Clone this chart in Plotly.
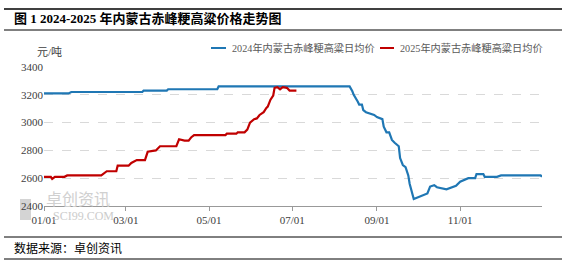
import plotly.graph_objects as go

# ---------------- data ----------------
dates_2024 = ["2024-01-01", "2024-01-19", "2024-01-21", "2024-03-13", "2024-03-14", "2024-03-31",
              "2024-04-01", "2024-05-07", "2024-05-08", "2024-08-12", "2024-08-14", "2024-08-15",
              "2024-08-18", "2024-08-19", "2024-08-21", "2024-08-22", "2024-08-24", "2024-08-26",
              "2024-08-30", "2024-09-01", "2024-09-04", "2024-09-05", "2024-09-06", "2024-09-08",
              "2024-09-10", "2024-09-12", "2024-09-14", "2024-09-17", "2024-09-18", "2024-09-20",
              "2024-09-22", "2024-09-24", "2024-09-25", "2024-09-28", "2024-10-08", "2024-10-10",
              "2024-10-13", "2024-10-15", "2024-10-22", "2024-10-26", "2024-10-29", "2024-11-01",
              "2024-11-05", "2024-11-07", "2024-11-12", "2024-11-13", "2024-11-18", "2024-11-19",
              "2024-11-28", "2024-12-01", "2024-12-30", "2024-12-31"]
price_2024 = [3210, 3210, 3220, 3220, 3230, 3230,
              3240, 3240, 3260, 3260, 3225, 3200,
              3150, 3130, 3130, 3090, 3075, 3070,
              3055, 3040, 3030, 3025, 2970, 2930,
              2930, 2875, 2855, 2830, 2745, 2695,
              2680, 2620, 2560, 2450, 2490, 2540,
              2550, 2535, 2520, 2535, 2545, 2575,
              2590, 2600, 2600, 2630, 2630, 2610,
              2610, 2620, 2620, 2610]

dates_2025 = ["2025-01-01", "2025-01-06", "2025-01-07", "2025-01-09", "2025-01-16", "2025-01-18",
              "2025-02-12", "2025-02-16", "2025-02-23", "2025-02-24", "2025-03-03", "2025-03-05",
              "2025-03-09", "2025-03-15", "2025-03-17", "2025-03-21", "2025-03-23", "2025-03-26",
              "2025-04-07", "2025-04-09", "2025-04-13", "2025-04-16", "2025-04-18", "2025-04-20",
              "2025-05-13", "2025-05-14", "2025-05-21", "2025-05-22", "2025-05-27", "2025-05-29",
              "2025-05-31", "2025-06-03", "2025-06-05", "2025-06-07", "2025-06-10", "2025-06-12",
              "2025-06-13", "2025-06-15", "2025-06-17", "2025-06-18", "2025-06-20", "2025-06-22",
              "2025-06-24", "2025-06-27", "2025-06-29", "2025-07-04"]
price_2025 = [2610, 2610, 2595, 2610, 2610, 2620,
              2620, 2650, 2650, 2690, 2690, 2710,
              2730, 2730, 2790, 2800, 2800, 2830,
              2830, 2880, 2870, 2870, 2895, 2910,
              2910, 2920, 2920, 2930, 2930, 2950,
              3000, 3025, 3030, 3055, 3075, 3105,
              3115, 3165, 3195, 3250, 3255, 3240,
              3255, 3250, 3230, 3230]

series_names = ["2024年内蒙古赤峰粳高粱日均价", "2025年内蒙古赤峰粳高粱日均价"]
series_colors = ["#1F77B4", "#C00000"]
tick_dates = ["2024-01-01", "2024-03-01", "2024-05-01", "2024-07-01", "2024-09-01", "2024-11-01"]
tick_labels = ["01/01", "03/01", "05/01", "07/01", "09/01", "11/01"]
y_ticks = [2400, 2600, 2800, 3000, 3200, 3400]

title_text = "图 1 2024-2025 年内蒙古赤峰粳高粱价格走势图"
unit_text = "元/吨"
source_text = "数据来源：卓创资讯"

# map 2025 dates onto the common (2024) month/day axis
x_2025 = [("2024" + d[4:]) for d in dates_2025]

# ---------------- layout geometry ----------------
W, H = 567, 268
L, R, T, B = 44, 25, 67, 62
PW, PH = W - L - R, H - T - B


def px(xp):
    return (xp - L) / PW


def py(yp):
    return (H - B - yp) / PH


FONT = "Liberation Serif, Noto Sans CJK SC, serif"
GRAY = "#404040"

fig = go.Figure()
fig.add_trace(go.Scatter(x=dates_2024, y=price_2024, mode="lines", name=series_names[0],
                         line=dict(color=series_colors[0], width=2.2), showlegend=False))
fig.add_trace(go.Scatter(x=x_2025, y=price_2025, mode="lines", name=series_names[1],
                         line=dict(color=series_colors[1], width=2.2), showlegend=False))

shapes = [
    dict(type="line", xref="paper", yref="paper", x0=px(4), x1=px(562), y0=py(9), y1=py(9),
         line=dict(color="black", width=1.5)),
    dict(type="line", xref="paper", yref="paper", x0=px(4), x1=px(562), y0=py(30), y1=py(30),
         line=dict(color="black", width=1)),
    dict(type="line", xref="paper", yref="paper", x0=px(4), x1=px(562), y0=py(237), y1=py(237),
         line=dict(color="black", width=1)),
    dict(type="line", xref="paper", yref="paper", x0=px(4), x1=px(562), y0=py(259), y1=py(259),
         line=dict(color="black", width=1)),
    # watermark square
    dict(type="rect", xref="paper", yref="paper", x0=px(20), x1=px(31), y0=py(220), y1=py(199),
         fillcolor="#d4d4d4", line=dict(width=0), layer="below"),
    # legend keys
    dict(type="line", xref="paper", yref="paper", x0=px(211), x1=px(226), y0=py(48), y1=py(48),
         line=dict(color=series_colors[0], width=2)),
    dict(type="line", xref="paper", yref="paper", x0=px(380), x1=px(394), y0=py(48), y1=py(48),
         line=dict(color=series_colors[1], width=2)),
]

annotations = [
    dict(text="<b>" + title_text + "</b>", xref="paper", yref="paper", x=px(12), y=py(19),
         xanchor="left", yanchor="middle", showarrow=False,
         font=dict(family=FONT, size=13, color="black")),
    dict(text=unit_text, xref="paper", yref="paper", x=px(35), y=py(52),
         xanchor="left", yanchor="middle", showarrow=False,
         font=dict(family=FONT, size=11, color=GRAY)),
    dict(text=source_text, xref="paper", yref="paper", x=px(12), y=py(248),
         xanchor="left", yanchor="middle", showarrow=False,
         font=dict(family=FONT, size=12, color="black")),
    dict(text="卓创资讯", xref="paper", yref="paper", x=px(44), y=py(198),
         xanchor="left", yanchor="middle", showarrow=False,
         font=dict(family="Noto Sans CJK SC", size=16, color="#d0d0d0")),
    dict(text="SCI99.COM", xref="paper", yref="paper", x=px(51), y=py(216),
         xanchor="left", yanchor="middle", showarrow=False,
         font=dict(family="Liberation Serif", size=12, color="#cccccc")),
    dict(text=series_names[0], xref="paper", yref="paper", x=px(230), y=py(48),
         xanchor="left", yanchor="middle", showarrow=False,
         font=dict(family=FONT, size=10.2, color="#595959")),
    dict(text=series_names[1], xref="paper", yref="paper", x=px(398), y=py(48),
         xanchor="left", yanchor="middle", showarrow=False,
         font=dict(family=FONT, size=10.2, color="#595959")),
]

fig.update_layout(
    width=W, height=H,
    margin=dict(l=L, r=R, t=T, b=B),
    paper_bgcolor="white", plot_bgcolor="white",
    showlegend=False,
    shapes=shapes, annotations=annotations,
    xaxis=dict(type="date", range=["2024-01-01", "2024-12-31"],
               tickvals=tick_dates, ticktext=tick_labels,
               showgrid=False, showline=True, linecolor="#999999", linewidth=1,
               ticks="outside", ticklen=4, tickcolor="#999999",
               tickfont=dict(family=FONT, size=11, color=GRAY), zeroline=False),
    yaxis=dict(range=[2400, 3400], tickvals=y_ticks,
               showgrid=True, gridcolor="#d9d9d9", griddash="dash", gridwidth=1,
               showline=False, zeroline=False, ticks="",
               tickfont=dict(family=FONT, size=11, color=GRAY)),
)

fig.write_html("out.html")
